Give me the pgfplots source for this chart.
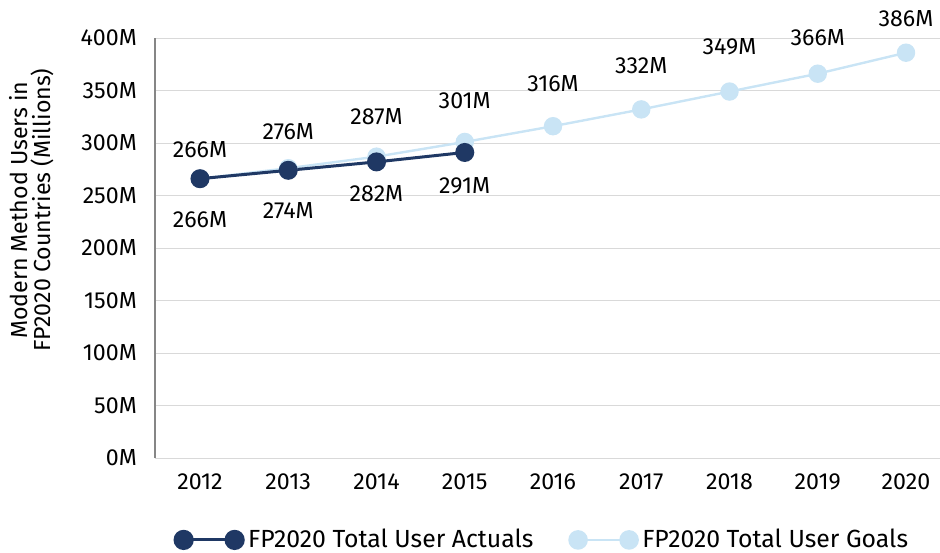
\documentclass[border=0pt]{standalone}
\usepackage{pgfplots}
\pgfplotsset{compat=1.18}
\usepackage{pgfplotstable}
\usepackage{fontspec}
\setmainfont{Fira Sans}
\definecolor{navy}{HTML}{1F3864}
\definecolor{lightb}{HTML}{C9E4F5}
\definecolor{gridc}{HTML}{D9D9D9}
\definecolor{axisc}{HTML}{868686}
\newcommand\lblfont{\fontsize{11.6}{13}\selectfont}
\pgfplotstableread{
year val dy
2012 266 14.5
2013 276 18.5
2014 287 20
2015 301 20.5
2016 316 21.5
2017 332 22
2018 349 22.5
2019 366 18
2020 386 17
}\goals
\pgfplotstableread{
year val dy
2012 266 -20.5
2013 274 -20
2014 282 -16
2015 291 -16.75
}\actuals
\begin{document}
\lblfont
\begin{tikzpicture}
\begin{axis}[
  at={(0,0)}, anchor=south west,
  scale only axis, width=392.5pt, height=210pt,
  xmin=2011.49, xmax=2020.385,
  ymin=0, ymax=400,
  xtick={2012,...,2020},
  ytick={0,50,...,400},
  xticklabel style={/pgf/number format/1000 sep={}, font=\lblfont, yshift=-4pt},
  yticklabel={\pgfmathprintnumber{\tick}M},
  yticklabel style={font=\lblfont, xshift=-5pt},
  /pgf/number format/assume math mode=true,
  major tick length=0pt,
  axis x line*=bottom, axis y line*=left,
  x axis line style={draw=gridc, -, line width=0.5pt},
  y axis line style={draw=axisc, -, line width=0.8pt},
  ymajorgrids, grid style={draw=gridc, line width=0.5pt},
  clip=false,
  ylabel={Modern Method Users in\\FP2020 Countries (Millions)},
  ylabel style={at={(axis description cs:0,0.59)}, yshift=61.5pt, anchor=center, align=center, font=\fontsize{11.6}{11.5}\selectfont},
  legend columns=2,
  legend style={at={(axis description cs:0.495,-0.195)}, anchor=center, draw=none, fill=none,
    /tikz/every even column/.append style={column sep=16pt},
    font=\fontsize{12.4}{14}\selectfont},
  legend cell align=left,
  legend image code/.code={
    \draw[#1, mark repeat=1, mark size=4.3pt] plot coordinates {(0pt,0pt) (25.5pt,0pt)};
    \path (0pt,0pt) -- (29.5pt,0pt);
  },
]
\addplot[lightb, line width=1.2pt, mark=*, mark size=4pt, mark options={fill=lightb, draw=lightb},
  nodes near coords={\pgfmathprintnumber[fixed,precision=0]{\pgfplotspointmeta}M},
  point meta=y,
  visualization depends on={\thisrow{dy} \as \dy},
  every node near coord/.append style={anchor=center, yshift=\dy pt, text=black, font=\lblfont},
  forget plot]
  table[x=year, y=val] {\goals};
\addplot[navy, line width=1.5pt, mark=*, mark size=4pt, mark options={fill=navy, draw=navy},
  nodes near coords={\pgfmathprintnumber[fixed,precision=0]{\pgfplotspointmeta}M},
  point meta=y,
  visualization depends on={\thisrow{dy} \as \dy},
  every node near coord/.append style={anchor=center, yshift=\dy pt, text=black, font=\lblfont}]
  table[x=year, y=val] {\actuals};
\addlegendentry{FP2020 Total User Actuals}
\addlegendimage{lightb, line width=1.2pt, mark=*, mark size=4pt, mark options={fill=lightb, draw=lightb}}
\addlegendentry{FP2020 Total User Goals}
\end{axis}
\pgfresetboundingbox
\path (-77.5pt,-47pt) rectangle (392.5pt,229pt);
\end{tikzpicture}
\end{document}
